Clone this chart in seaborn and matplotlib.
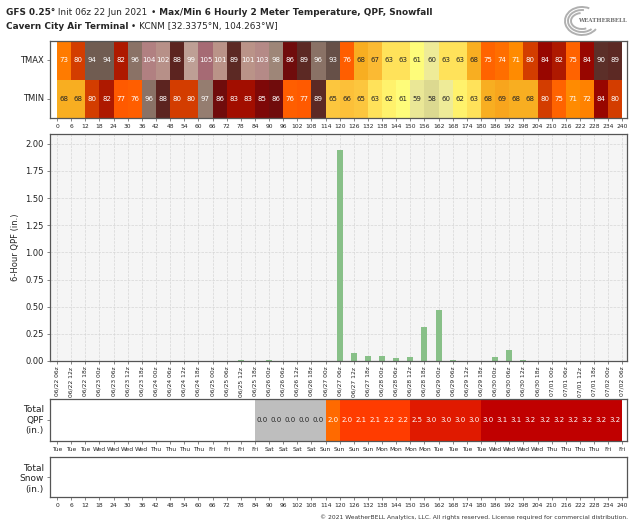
import numpy as np
import pandas as pd
import matplotlib
matplotlib.use("Agg")
import matplotlib.pyplot as plt
import seaborn as sns
from matplotlib.colors import LinearSegmentedColormap, ListedColormap, BoundaryNorm
from matplotlib.patches import Arc

# forecast hours (cell edges) and 6-hour cells
hours = list(range(0, 241, 6))
cell_hours = hours[:-1]

# 6-hourly max / min 2 m temperature (F), one per 6h cell
tmax = [73, 80, 94, 94, 82, 96, 104, 102, 88, 99, 105, 101, 89, 101, 103, 98, 86, 89, 96, 93,
        76, 68, 67, 63, 63, 61, 60, 63, 63, 68, 75, 74, 71, 80, 84, 82, 75, 84, 90, 89]
tmin = [68, 68, 80, 82, 77, 76, 96, 88, 80, 80, 97, 86, 83, 83, 85, 86, 76, 77, 89, 65,
        66, 65, 63, 62, 61, 59, 58, 60, 62, 63, 68, 69, 68, 68, 80, 75, 71, 72, 84, 80]

# 6-hour QPF (in.) valid at hours 6..240
qpf_hours = hours[1:]
qpf_6h = [0, 0, 0, 0, 0, 0, 0, 0, 0, 0, 0, 0, 0.01, 0, 0.01, 0, 0, 0, 0, 1.94,
          0.07, 0.05, 0.05, 0.03, 0.04, 0.31, 0.47, 0.01, 0, 0, 0.04, 0.10, 0.01, 0, 0, 0, 0, 0, 0, 0]

# running total QPF (in.) per cell, blank before the first trace
qpf_total = [np.nan] * 14 + [0.01, 0.01, 0.01, 0.01, 0.01, 1.97, 2.03, 2.08, 2.13, 2.16, 2.21,
                             2.52, 2.98, 2.99, 2.99, 2.99, 3.03, 3.13, 3.14, 3.17, 3.17, 3.17,
                             3.17, 3.17, 3.17, 3.17]

init = pd.Timestamp("2021-06-22 06:00")
valid = [init + pd.Timedelta(hours=h) for h in hours]
date_labels = [t.strftime("%m/%d %Hz") for t in valid]
day_labels = [t.strftime("%a") for t in valid]

# colour scales
temp_levels = [58, 59, 60, 61, 62, 63, 65, 67, 68, 69, 71, 73, 75, 77, 80, 82, 84, 85, 86,
               88, 90, 93, 94, 96, 98, 99, 101, 103, 104, 105]
temp_colors = ["#dcd990", "#ebe896", "#efec98", "#fffd78", "#fff06a", "#ffe25a", "#fcc63e",
               "#fbba34", "#f8ad20", "#f8a41c", "#ff8a00", "#ff7a00", "#ff6200", "#ff5a00",
               "#d23c00", "#ad1800", "#980600", "#800808", "#700c0c", "#5c2420", "#5c2e28",
               "#665048", "#6e5a50", "#8a7266", "#9e8678", "#bea096", "#ba9488", "#b58c88",
               "#b28282", "#a66a74"]
tvmin, tvmax = temp_levels[0], temp_levels[-1]
temp_cmap = LinearSegmentedColormap.from_list(
    "wb_temp", [((v - tvmin) / (tvmax - tvmin), c) for v, c in zip(temp_levels, temp_colors)])

qpf_bounds = [0, 1.0, 2.0, 2.5, 3.0, 4.0]
qpf_colors = ["#bebebe", "#ff6a00", "#ff3c00", "#e01a00", "#c00000"]
qpf_cmap = ListedColormap(qpf_colors)
qpf_norm = BoundaryNorm(qpf_bounds, qpf_cmap.N)

sns.set_theme(style="ticks")
plt.rcParams["font.family"] = ["DejaVu Sans"]
edge = "#555555"

fig = plt.figure(figsize=(6.4, 5.26), dpi=100)


def box(top, bottom):
    return [50 / 640, 1 - bottom / 526, 577 / 640, (bottom - top) / 526]


ax_t = fig.add_axes(box(41, 118))
ax_q = fig.add_axes(box(134, 361))
ax_tot = fig.add_axes(box(399, 441))
ax_sn = fig.add_axes(box(457, 497))

cell_xlim = (-0.5, 40 + 2 / 6)

# temperature strip
temp_df = pd.DataFrame([tmax, tmin], index=["TMAX", "TMIN"], columns=cell_hours)
sns.heatmap(temp_df, ax=ax_t, cmap=temp_cmap, vmin=tvmin, vmax=tvmax, annot=True, fmt="d",
            cbar=False, annot_kws={"size": 5})
ax_t.set_xlim(*cell_xlim)
ax_t.set_xticks(np.arange(41))
ax_t.set_xticklabels(hours, rotation=0)
ax_t.set_yticklabels(["TMAX", "TMIN"], rotation=0)
ax_t.set_xlabel("")
ax_t.set_ylabel("")

# 6-hour QPF bars
qpf_df = pd.DataFrame({"hour": qpf_hours, "qpf": qpf_6h})
sns.barplot(data=qpf_df, x="hour", y="qpf", native_scale=True, width=0.42, color="#88c088",
            saturation=1, edgecolor="none", errorbar=None, ax=ax_q)
ax_q.set_facecolor("#f5f5f5")
ax_q.set_xlim(-3, 242)
ax_q.set_ylim(0, 2.09)
ax_q.set_yticks(np.arange(0, 2.01, 0.25))
ax_q.set_yticklabels([f"{v:.2f}" for v in np.arange(0, 2.01, 0.25)])
ax_q.set_xticks(hours)
ax_q.set_xticklabels(date_labels, rotation=90)
ax_q.grid(True, ls="--", lw=0.5, color="#d6d6d6")
ax_q.set_axisbelow(True)
ax_q.set_xlabel("")
ax_q.set_ylabel("6-Hour QPF (in.)", fontsize=6)

# total QPF strip
tot_df = pd.DataFrame([qpf_total], index=["Total\nQPF\n(in.)"], columns=cell_hours)
sns.heatmap(tot_df, ax=ax_tot, cmap=qpf_cmap, norm=qpf_norm, annot=True, fmt=".1f",
            cbar=False, annot_kws={"size": 5})
ax_tot.set_xlim(*cell_xlim)
ax_tot.set_xticks(np.arange(41))
ax_tot.set_xticklabels(day_labels, rotation=0)
ax_tot.set_yticklabels(["Total\nQPF\n(in.)"], rotation=0)
ax_tot.set_xlabel("")
ax_tot.set_ylabel("")

# total snow strip (empty)
ax_sn.set_facecolor("white")
ax_sn.set_xlim(*cell_xlim)
ax_sn.set_ylim(0, 1)
ax_sn.set_xticks(np.arange(41))
ax_sn.set_xticklabels(hours)
ax_sn.set_yticks([0.5])
ax_sn.set_yticklabels(["Total\nSnow\n(in.)"])

for ax in [ax_t, ax_q, ax_tot, ax_sn]:
    for s in ax.spines.values():
        s.set_visible(True)
        s.set_color(edge)
        s.set_linewidth(0.9)
    ax.tick_params(axis="both", length=2.5, width=0.5, color=edge, labelcolor="#222222")
    ax.tick_params(axis="x", labelsize=4.3, pad=1.5)
    ax.tick_params(axis="y", labelsize=6, pad=2)
for ax in [ax_tot, ax_sn]:
    ax.tick_params(axis="y", labelsize=6.5)
    for lab in ax.get_yticklabels():
        lab.set_multialignment("right")

# title lines
def chain(pieces, y):
    prev = fig.text(6 / 640, y, pieces[0][0], fontsize=6.4, fontweight=pieces[0][1], va="bottom")
    for txt, w in pieces[1:]:
        prev = ax_t.annotate(txt, xy=(1, 0), xycoords=prev, fontsize=6.4, fontweight=w,
                             va="bottom", ha="left", annotation_clip=False)


chain([("GFS 0.25°", "bold"), (" Init 06z 22 Jun 2021 ", "normal"), ("•", "normal"),
       (" Max/Min 6 Hourly 2 Meter Temperature, QPF, Snowfall", "bold")], 1 - 17 / 526)
chain([("Cavern City Air Terminal", "bold"), (" • KCNM [32.3375°N, 104.263°W]", "normal")],
      1 - 31 / 526)

# logo
ax_logo = fig.add_axes([562 / 640, 1 - 38 / 526, 64 / 640, 34 / 526])
ax_logo.set_xlim(0, 64)
ax_logo.set_ylim(0, 34)
ax_logo.axis("off")
for w, h, t1, t2 in [(34, 28, 60, 330), (28, 22, 80, 320), (22, 16, 100, 300)]:
    ax_logo.add_patch(Arc((20, 17), w, h, theta1=t1, theta2=t2, color="#b0b0b0", lw=1.4))
ax_logo.text(40, 17, "WEATHERBELL", fontsize=4, family="DejaVu Serif", color="#707070",
             ha="center", va="center", fontweight="bold")

fig.text(628 / 640, 1 - 517 / 526,
         "© 2021 WeatherBELL Analytics, LLC. All rights reserved. License required for commercial distribution.",
         ha="right", va="center", fontsize=4.3, color="#333333")

fig.savefig("out.png", dpi=100)
